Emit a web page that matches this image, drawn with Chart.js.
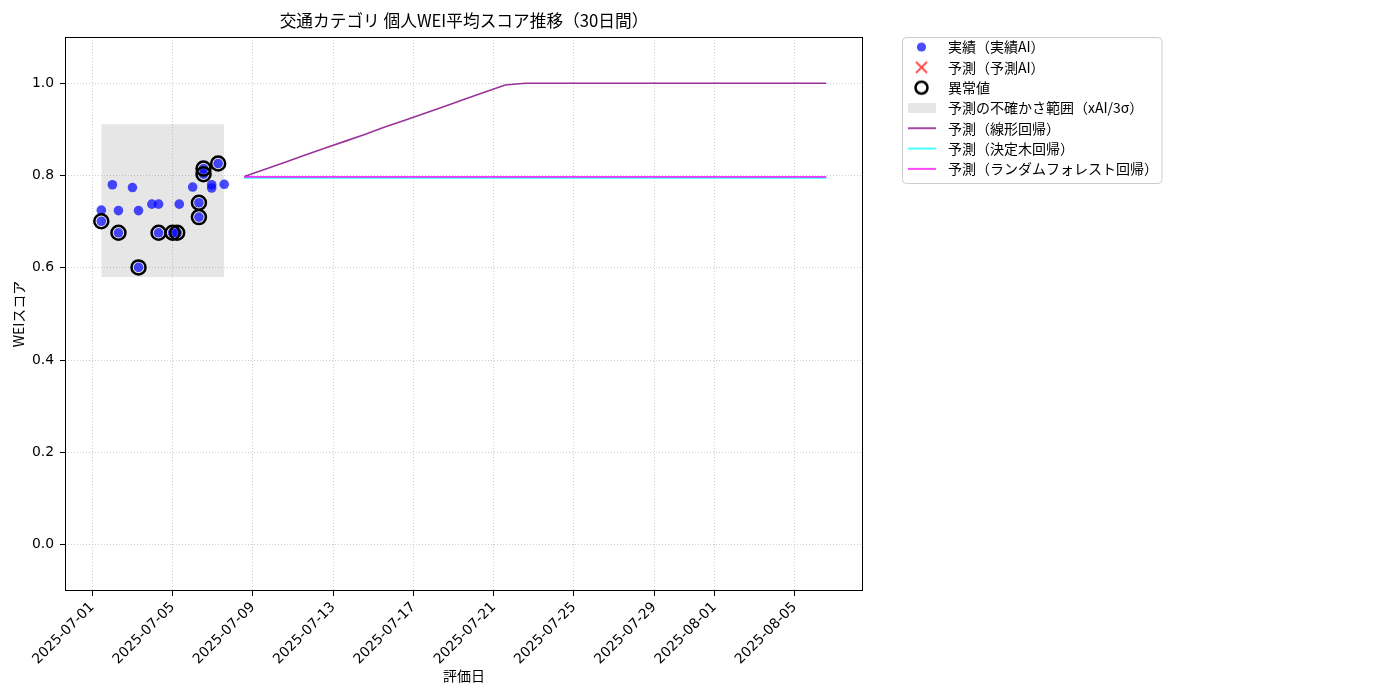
<!DOCTYPE html>
<html>
<head>
<meta charset="utf-8">
<script src="https://cdn.jsdelivr.net/npm/chart.js@4.4.1/dist/chart.umd.min.js"></script>
<style>
  body { margin: 0; background: #fff; }
  #wrap { width: 1400px; height: 700px; }
</style>
</head>
<body>
<div id="wrap"><canvas id="weiChart" width="1400" height="700"></canvas></div>
<script>
// 実績（個人ごとの評価日時とWEIスコア）
const actualDates = [
  '2025-07-01T10:45', '2025-07-01T10:45', '2025-07-02T00:00', '2025-07-02T07:15', '2025-07-02T07:15',
  '2025-07-03T00:00', '2025-07-03T07:15', '2025-07-03T07:15', '2025-07-03T23:15', '2025-07-04T07:15',
  '2025-07-04T07:15', '2025-07-05T00:00', '2025-07-05T05:30', '2025-07-05T08:00', '2025-07-06T00:00',
  '2025-07-06T07:30', '2025-07-06T07:30', '2025-07-06T13:00', '2025-07-06T13:00', '2025-07-06T22:45',
  '2025-07-06T22:45', '2025-07-07T06:30', '2025-07-07T13:45'
];
const actualValues = [
  0.725, 0.701, 0.780, 0.724, 0.676,
  0.774, 0.724, 0.601, 0.738, 0.738,
  0.676, 0.676, 0.676, 0.738, 0.775,
  0.741, 0.710, 0.815, 0.803, 0.780,
  0.773, 0.826, 0.781
];

// 異常値
const outlierDates = [
  '2025-07-01T10:45', '2025-07-02T07:15', '2025-07-03T07:15', '2025-07-04T07:15', '2025-07-05T00:00',
  '2025-07-05T05:30', '2025-07-06T07:30', '2025-07-06T07:30', '2025-07-06T13:00', '2025-07-06T13:00',
  '2025-07-07T06:30'
];
const outlierValues = [
  0.701, 0.676, 0.601, 0.676, 0.676,
  0.676, 0.741, 0.710, 0.815, 0.803,
  0.826
];

// 予測（予測AI）: 点なし
const predAiDates = [];
const predAiValues = [];

// 不確かさ範囲（xAI/3σ）
const bandDates = ['2025-07-01T10:45', '2025-07-07T13:45'];
const bandUpper = [0.911, 0.911];
const bandLower = 0.580;

// 予測期間
const forecastDates = [
  '2025-07-08T13:45', '2025-07-09T13:45', '2025-07-10T13:45', '2025-07-11T13:45', '2025-07-12T13:45',
  '2025-07-13T13:45', '2025-07-14T13:45', '2025-07-15T13:45', '2025-07-16T13:45', '2025-07-17T13:45',
  '2025-07-18T13:45', '2025-07-19T13:45', '2025-07-20T13:45', '2025-07-21T13:45', '2025-07-22T13:45',
  '2025-07-23T13:45', '2025-07-24T13:45', '2025-07-25T13:45', '2025-07-26T13:45', '2025-07-27T13:45',
  '2025-07-28T13:45', '2025-07-29T13:45', '2025-07-30T13:45', '2025-07-31T13:45', '2025-08-01T13:45',
  '2025-08-02T13:45', '2025-08-03T13:45', '2025-08-04T13:45', '2025-08-05T13:45', '2025-08-06T13:45'
];
const linearValues = [
  0.798, 0.813, 0.828, 0.844, 0.859, 0.874, 0.889, 0.905, 0.920, 0.935,
  0.950, 0.966, 0.981, 0.996, 1.000, 1.000, 1.000, 1.000, 1.000, 1.000,
  1.000, 1.000, 1.000, 1.000, 1.000, 1.000, 1.000, 1.000, 1.000, 1.000
];
const treeValues = [
  0.795, 0.795, 0.795, 0.795, 0.795, 0.795, 0.795, 0.795, 0.795, 0.795,
  0.795, 0.795, 0.795, 0.795, 0.795, 0.795, 0.795, 0.795, 0.795, 0.795,
  0.795, 0.795, 0.795, 0.795, 0.795, 0.795, 0.795, 0.795, 0.795, 0.795
];
const forestValues = [
  0.797, 0.797, 0.797, 0.797, 0.797, 0.797, 0.797, 0.797, 0.797, 0.797,
  0.797, 0.797, 0.797, 0.797, 0.797, 0.797, 0.797, 0.797, 0.797, 0.797,
  0.797, 0.797, 0.797, 0.797, 0.797, 0.797, 0.797, 0.797, 0.797, 0.797
];

// 軸
const xTickLabels = [
  '2025-07-01', '2025-07-05', '2025-07-09', '2025-07-13', '2025-07-17',
  '2025-07-21', '2025-07-25', '2025-07-29', '2025-08-01', '2025-08-05'
];
const xAxisStart = '2025-06-29T15:20';
const xAxisEnd = '2025-08-08T09:40';
const yTickValues = [0.0, 0.2, 0.4, 0.6, 0.8, 1.0];

const legendLabels = [
  '実績（実績AI）', '予測（予測AI）', '異常値', '予測の不確かさ範囲（xAI/3σ）',
  '予測（線形回帰）', '予測（決定木回帰）', '予測（ランダムフォレスト回帰）'
];

const FONT = "'Noto Sans CJK JP', 'Noto Sans', sans-serif";
const TICK_FONT = "'DejaVu Sans', sans-serif";
const DAY = 86400000;
const baseTime = Date.parse('2025-07-01T00:00');
const toDay = s => (Date.parse(s) - baseTime) / DAY;
const toPoints = (dates, values) => dates.map((d, i) => ({ x: toDay(d), y: values[i] }));
const xTickValues = xTickLabels.map(s => toDay(s + 'T00:00'));

const COLORS = {
  actual: 'rgba(0,0,255,0.7)',
  pred: 'rgba(255,0,0,0.7)',
  band: 'rgba(128,128,128,0.2)',
  linear: 'rgba(128,0,128,0.8)',
  tree: 'rgba(0,255,255,0.8)',
  forest: 'rgba(255,0,255,0.8)'
};

// 凡例アイコン
function makeIcon(draw) {
  const c = document.createElement('canvas');
  c.width = 34; c.height = 20;
  draw(c.getContext('2d'));
  return c;
}
const lineIcon = color => makeIcon(g => {
  g.strokeStyle = color; g.lineWidth = 1.8;
  g.beginPath(); g.moveTo(1, 10); g.lineTo(29, 10); g.stroke();
});
const legendIcons = [
  makeIcon(g => { g.fillStyle = COLORS.actual; g.beginPath(); g.arc(14.5, 10, 4.6, 0, Math.PI * 2); g.fill(); }),
  makeIcon(g => {
    g.strokeStyle = COLORS.pred; g.lineWidth = 2;
    g.beginPath(); g.moveTo(9, 4.5); g.lineTo(20, 15.5); g.moveTo(20, 4.5); g.lineTo(9, 15.5); g.stroke();
  }),
  makeIcon(g => { g.strokeStyle = '#000'; g.lineWidth = 2.5; g.beginPath(); g.arc(14.5, 10, 6, 0, Math.PI * 2); g.stroke(); }),
  makeIcon(g => { g.fillStyle = COLORS.band; g.fillRect(1, 5, 28, 10); }),
  lineIcon(COLORS.linear),
  lineIcon(COLORS.tree),
  lineIcon(COLORS.forest)
];

// 凡例の配置
const LEG_FONT = 14;
const LEG_PAD = 6.3;
const LEG_BOX = 34;
const legendShift = 3.3;
const measure = document.createElement('canvas').getContext('2d');
measure.font = LEG_FONT + 'px ' + FONT;
const maxTextW = Math.max(...legendLabels.map(t => measure.measureText(t).width));
const plotRight = 863;
const legendTextX = 948;
const legendLeft = legendTextX - LEG_FONT / 2 - LEG_BOX - LEG_PAD;
const legendW = LEG_PAD + LEG_BOX + LEG_FONT / 2 + maxTextW;
const gapW = legendLeft - plotRight;
const padRight = 1400 - legendLeft - legendW;

const framePlugin = {
  id: 'frames',
  afterLayout(chart) {
    chart.legend.top -= legendShift;
    chart.legend.bottom -= legendShift;
  },
  afterDraw(chart) {
    const { ctx, chartArea: a, legend } = chart;
    ctx.save();
    ctx.strokeStyle = '#000';
    ctx.lineWidth = 1;
    ctx.strokeRect(Math.round(a.left) + 0.5, Math.round(a.top) + 0.5,
      Math.round(a.right - a.left) - 1, Math.round(a.bottom - a.top) - 1);
    // 凡例の枠
    const textLeft = legend.left + LEG_PAD + LEG_BOX + LEG_FONT / 2;
    const fx = legend.left + LEG_PAD - 4.5, fy = a.top + 0.5;
    const fw = textLeft + maxTextW + 4 - fx, fh = 146;
    ctx.strokeStyle = '#cccccc';
    ctx.beginPath();
    ctx.roundRect(fx, fy, fw, fh, 4);
    ctx.stroke();
    ctx.restore();
  }
};

Chart.defaults.font.family = FONT;
Chart.defaults.color = '#000';

const chart = new Chart(document.getElementById('weiChart'), {
  type: 'scatter',
  data: {
    datasets: [
      {
        label: legendLabels[2], data: toPoints(outlierDates, outlierValues), order: 0,
        pointRadius: 7, pointBorderWidth: 2.5, pointBorderColor: '#000',
        pointBackgroundColor: 'rgba(0,0,0,0)'
      },
      {
        label: legendLabels[0], data: toPoints(actualDates, actualValues), order: 1,
        pointRadius: 4.8, pointBorderWidth: 0, pointBackgroundColor: COLORS.actual
      },
      {
        label: legendLabels[1], data: toPoints(predAiDates, predAiValues), order: 2,
        pointStyle: 'crossRot', pointRadius: 6, pointBorderWidth: 2, pointBorderColor: COLORS.pred
      },
      {
        type: 'line', label: legendLabels[6], data: toPoints(forecastDates, forestValues), order: 3,
        borderColor: COLORS.forest, borderWidth: 1.6, pointRadius: 0, fill: false
      },
      {
        type: 'line', label: legendLabels[5], data: toPoints(forecastDates, treeValues), order: 4,
        borderColor: COLORS.tree, borderWidth: 1.6, pointRadius: 0, fill: false
      },
      {
        type: 'line', label: legendLabels[4], data: toPoints(forecastDates, linearValues), order: 5,
        borderColor: COLORS.linear, borderWidth: 1.6, pointRadius: 0, fill: false
      },
      {
        type: 'line', label: legendLabels[3], data: toPoints(bandDates, bandUpper), order: 6,
        borderWidth: 0, pointRadius: 0, backgroundColor: COLORS.band,
        fill: { value: bandLower }
      }
    ]
  },
  options: {
    responsive: false,
    animation: false,
    events: [],
    layout: { padding: { left: 0, top: 0, bottom: 0, right: padRight } },
    plugins: {
      title: {
        display: true,
        text: '交通カテゴリ 個人WEI平均スコア推移（30日間）',
        font: { size: 16.7, weight: 'normal' },
        color: '#000',
        padding: { top: 11, bottom: 6 },
        fullSize: false
      },
      legend: {
        position: 'right',
        align: 'start',
        fullSize: false,
        maxWidth: 500,
        labels: {
          usePointStyle: true,
          pointStyleWidth: LEG_BOX,
          padding: LEG_PAD,
          font: { size: LEG_FONT },
          color: '#000',
          generateLabels: () => legendLabels.map((text, i) => ({
            text, pointStyle: legendIcons[i], lineWidth: 0,
            fillStyle: 'rgba(0,0,0,0)', strokeStyle: 'rgba(0,0,0,0)', hidden: false
          }))
        }
      },
      tooltip: { enabled: false }
    },
    scales: {
      x: {
        type: 'linear',
        position: 'bottom',
        min: toDay(xAxisStart),
        max: toDay(xAxisEnd),
        afterBuildTicks: s => { s.ticks = xTickValues.map(v => ({ value: v })); },
        afterFit: s => { s.height = 109; },
        ticks: {
          autoSkip: false, minRotation: 45, maxRotation: 45, padding: 3,
          font: { size: 13.9, family: TICK_FONT }, color: '#000',
          callback: (v, i) => xTickLabels[i]
        },
        grid: { color: 'rgba(176,176,176,0.8)', lineWidth: 0.8, tickColor: '#000', tickWidth: 1, tickLength: 5 },
        border: { display: false, dash: [1, 2] },
        title: { display: true, text: '評価日', font: { size: 14 }, color: '#000', padding: { top: 0, bottom: 15.6 } }
      },
      y: {
        type: 'linear',
        position: 'left',
        min: -0.1,
        max: 1.1,
        afterBuildTicks: s => { s.ticks = yTickValues.map(v => ({ value: v })); },
        afterFit: s => { s.width = 65; },
        ticks: { padding: 6, font: { size: 13.9, family: TICK_FONT }, color: '#000', callback: v => v.toFixed(1) },
        grid: { color: 'rgba(176,176,176,0.8)', lineWidth: 0.8, tickColor: '#000', tickWidth: 1, tickLength: 5 },
        border: { display: false, dash: [1, 2] },
        title: { display: true, text: 'WEIスコア', font: { size: 14 }, color: '#000', padding: { top: 10.6, bottom: 0 } }
      },
      gap: {
        type: 'linear',
        position: 'right',
        afterFit: s => { s.width = gapW; },
        ticks: { display: false },
        grid: { display: false },
        border: { display: false }
      }
    }
  },
  plugins: [framePlugin]
});

// 凡例の実際の幅に合わせて右余白を補正
const extraW = chart.legend.width - legendW;
chart.options.layout.padding.right = padRight - extraW;
chart.update();
</script>
</body>
</html>
